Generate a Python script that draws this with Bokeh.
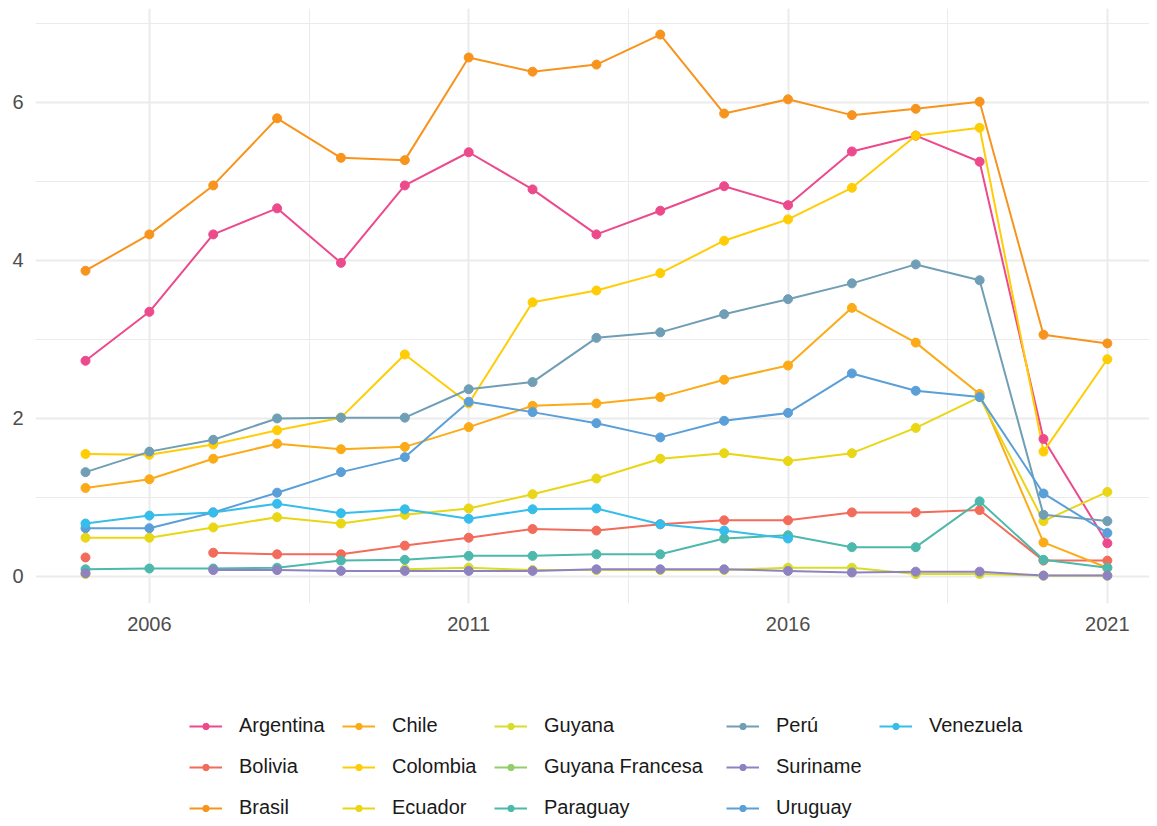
from bokeh.plotting import figure
from bokeh.layouts import column
from bokeh.models import Range1d, FixedTicker, Legend, LegendItem
from bokeh.embed import file_html
from bokeh.resources import INLINE

years = list(range(2005, 2022))
N = None

countries = ["Argentina", "Bolivia", "Brasil", "Chile", "Colombia", "Ecuador", "Guyana",
             "Guyana Francesa", "Paraguay", "Perú", "Suriname", "Uruguay", "Venezuela"]

argentina = [2.73, 3.35, 4.33, 4.66, 3.97, 4.95, 5.37, 4.90, 4.33, 4.63, 4.94, 4.70, 5.38, 5.58, 5.25, 1.74, 0.42]
bolivia   = [0.24, N, 0.30, 0.28, 0.28, 0.39, 0.49, 0.60, 0.58, 0.66, 0.71, 0.71, 0.81, 0.81, 0.84, 0.20, 0.20]
brasil    = [3.87, 4.33, 4.95, 5.80, 5.30, 5.27, 6.57, 6.39, 6.48, 6.86, 5.86, 6.04, 5.84, 5.92, 6.01, 3.06, 2.95]
chile     = [1.12, 1.23, 1.49, 1.68, 1.61, 1.64, 1.89, 2.16, 2.19, 2.27, 2.49, 2.67, 3.40, 2.96, 2.31, 0.43, 0.11]
colombia  = [1.55, 1.54, 1.67, 1.85, 2.01, 2.81, 2.19, 3.47, 3.62, 3.84, 4.25, 4.52, 4.92, 5.58, 5.68, 1.58, 2.75]
ecuador   = [0.49, 0.49, 0.62, 0.75, 0.67, 0.78, 0.86, 1.04, 1.24, 1.49, 1.56, 1.46, 1.56, 1.88, 2.27, 0.70, 1.07]
guyana    = [0.03, N, N, N, N, 0.09, 0.11, 0.08, 0.08, 0.08, 0.08, 0.11, 0.11, 0.03, 0.03, 0.01, 0.01]
guyana_fr = [N] * 17
paraguay  = [0.09, 0.10, 0.10, 0.11, 0.20, 0.21, 0.26, 0.26, 0.28, 0.28, 0.48, 0.52, 0.37, 0.37, 0.95, 0.21, 0.11]
peru      = [1.32, 1.58, 1.73, 2.00, 2.01, 2.01, 2.37, 2.46, 3.02, 3.09, 3.32, 3.51, 3.71, 3.95, 3.75, 0.78, 0.70]
suriname  = [0.04, N, 0.08, 0.08, 0.07, 0.07, 0.07, 0.07, 0.09, 0.09, 0.09, 0.07, 0.05, 0.06, 0.06, 0.01, 0.01]
uruguay   = [0.61, 0.61, 0.81, 1.06, 1.32, 1.51, 2.21, 2.08, 1.94, 1.76, 1.97, 2.07, 2.57, 2.35, 2.27, 1.05, 0.55]
venezuela = [0.67, 0.77, 0.81, 0.92, 0.80, 0.85, 0.73, 0.85, 0.86, 0.66, 0.58, 0.48, N, N, N, N, N]

series = [argentina, bolivia, brasil, chile, colombia, ecuador, guyana, guyana_fr,
          paraguay, peru, suriname, uruguay, venezuela]

colors = ["#EC4A8C", "#F26B5B", "#F7941D", "#FBAB18", "#FFCD05", "#E9D615", "#D8DD2A",
          "#92CE6A", "#4DB8AC", "#709EB5", "#8F82C1", "#5B9FD8", "#36BDEB"]

x_ticks = [2006, 2011, 2016, 2021]
x_minor = [2008.5, 2013.5, 2018.5]
y_ticks = [0, 2, 4, 6]
y_minor = [1, 3, 5, 7]

FONT = "Liberation Sans"
W = 1149

# ---------------- main chart ----------------
p = figure(width=W, height=640, output_backend="svg", toolbar_location=None,
           x_range=Range1d(2004.217, 2021.66), y_range=Range1d(-0.343, 7.19),
           min_border_left=35, min_border_right=0, min_border_top=8, min_border_bottom=37)
p.outline_line_color = None
p.background_fill_color = "white"
p.border_fill_color = "white"

for ax in (p.xaxis[0], p.yaxis[0]):
    ax.axis_line_color = None
    ax.major_tick_line_color = None
    ax.minor_tick_line_color = None
    ax.major_label_text_font = FONT
    ax.major_label_text_font_size = "20px"
    ax.major_label_text_color = "#4D4D4D"

p.xaxis.ticker = FixedTicker(ticks=x_ticks, minor_ticks=x_minor)
p.yaxis.ticker = FixedTicker(ticks=y_ticks, minor_ticks=y_minor)
p.xaxis.major_label_standoff = 7
p.yaxis.major_label_standoff = 6

for g in (p.xgrid[0], p.ygrid[0]):
    g.grid_line_color = "#EBEBEB"
    g.grid_line_width = 2
    g.minor_grid_line_color = "#EBEBEB"
    g.minor_grid_line_width = 1

def clean(vals):
    return [float("nan") if v is None else v for v in vals]

for vals, c in zip(series, colors):
    p.line(years, clean(vals), line_color=c, line_width=2)
for vals, c in zip(series, colors):
    p.scatter(years, clean(vals), fill_color=c, line_color=c, size=9)

# ---------------- legend strip ----------------
LH = 178
q = figure(width=W, height=LH, output_backend="svg", toolbar_location=None,
           x_range=Range1d(0, 1), y_range=Range1d(0, 1),
           x_axis_type=None, y_axis_type=None,
           min_border_left=0, min_border_right=0, min_border_top=0, min_border_bottom=0)
q.outline_line_color = None
q.xgrid.visible = False
q.ygrid.visible = False
q.background_fill_color = "white"
q.border_fill_color = "white"

nan = float("nan")
items = []
for name, c in zip(countries, colors):
    lr = q.line([nan], [nan], line_color=c, line_width=2)
    sr = q.scatter([nan], [nan], fill_color=c, line_color=c, size=9)
    items.append(LegendItem(label=name, renderers=[lr, sr]))

ITEM_H = 23
GAP = 18
col_x = [154, 307, 459, 691, 844]
for ci in range(5):
    its = items[ci * 3:ci * 3 + 3]
    n = len(its)
    h = n * ITEM_H + (n - 1) * GAP
    top_local = 74
    bottom_local = top_local + h
    leg = Legend(items=its, location=(col_x[ci], LH - bottom_local),
                 orientation="vertical", glyph_width=33, glyph_height=16,
                 label_height=16, label_standoff=17, spacing=GAP, padding=0, margin=0,
                 border_line_color=None, background_fill_alpha=0,
                 label_text_font=FONT, label_text_font_size="20px",
                 label_text_color="#1A1A1A")
    q.add_layout(leg, "center")

layout = column(p, q, spacing=0)
open("out.html", "w").write(file_html(layout, INLINE))
